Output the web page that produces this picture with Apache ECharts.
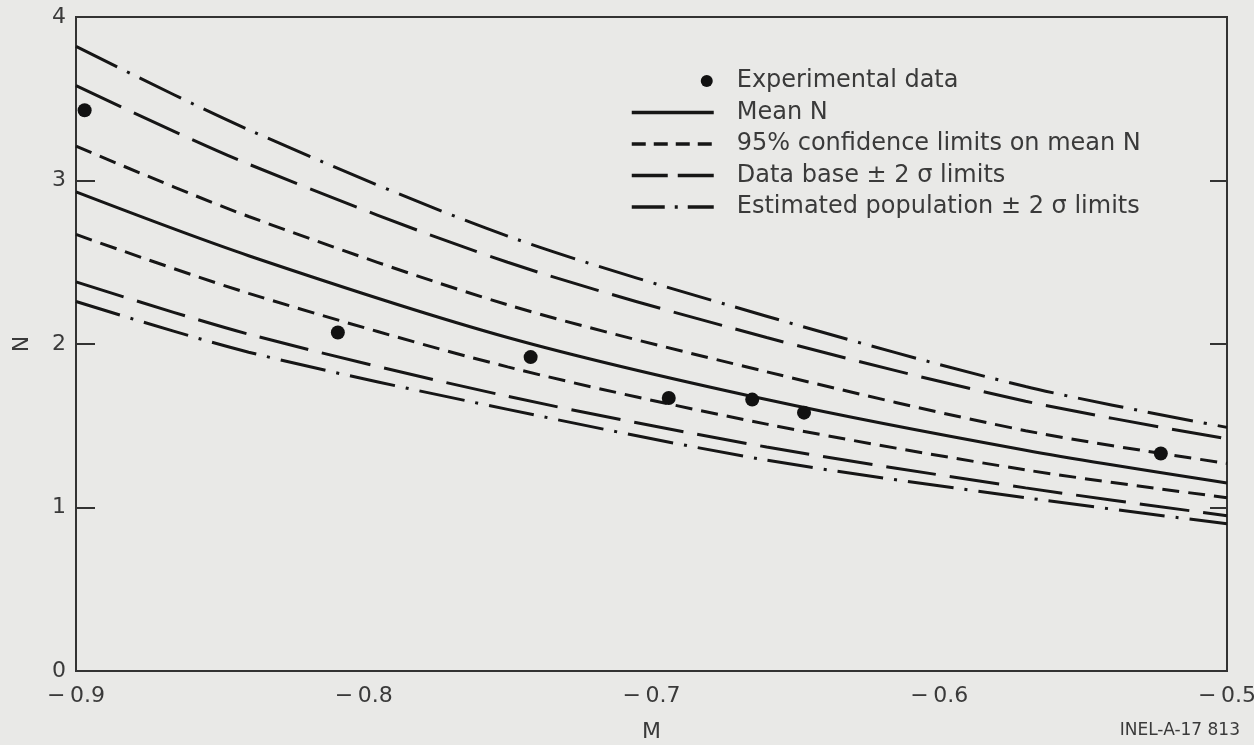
<!DOCTYPE html>
<html>
<head>
<meta charset="utf-8">
<script src="https://cdn.jsdelivr.net/npm/echarts@6/dist/echarts.min.js"></script>
<style>
html,body{margin:0;padding:0;background:#e9e9e7;}
#chart{width:1254px;height:745px;}
</style>
</head>
<body>
<div id="chart"></div>
<script>
// ---- data ----
var curveM = [-0.9, -0.84, -0.75, -0.66, -0.57, -0.5];
var meanN = [2.93, 2.54, 2.04, 1.66, 1.35, 1.15];
var confUpper = [3.21, 2.78, 2.24, 1.83, 1.47, 1.27];
var confLower = [2.67, 2.31, 1.86, 1.51, 1.23, 1.06];
var dbUpper = [3.58, 3.10, 2.50, 2.04, 1.65, 1.42];
var dbLower = [2.38, 2.06, 1.68, 1.37, 1.12, 0.95];
var popUpper = [3.82, 3.31, 2.66, 2.17, 1.74, 1.49];
var popLower = [2.26, 1.95, 1.60, 1.29, 1.06, 0.90];
var expM = [-0.897, -0.809, -0.742, -0.694, -0.665, -0.647, -0.523];
var expN = [3.43, 2.07, 1.92, 1.67, 1.66, 1.58, 1.33];
var legendNames = ['Experimental data', 'Mean N', '95% confidence limits on mean N',
  'Data base \u00b1 2 \u03c3 limits', 'Estimated population \u00b1 2 \u03c3 limits'];

function pairs(xs, ys) { return xs.map(function (x, i) { return [x, ys[i]]; }); }

var FONT = '"DejaVu Sans", "Liberation Sans", Arial, sans-serif';
var INK = '#161616';
var TXT = '#3a3a3a';
var DASH_CONF = [17, 9];
var DASH_DB = [50, 14];
var DASH_POP = [46, 11, 3, 11];

function lineSeries(name, ys, type) {
  return {
    type: 'line', name: name, data: pairs(curveM, ys), smooth: 0.3,
    symbol: 'none', clip: true,
    lineStyle: { color: INK, width: 3, type: type, cap: 'butt' },
    itemStyle: { color: INK }
  };
}

var hiddenSym = { opacity: 0 };
// dot placed at the right end of the legend sample box (82 x 14)
var DOT_ICON = 'path://M0,0M82,14M69,7a6,6 0 1,0 12,0a6,6 0 1,0 -12,0z';

var chart = echarts.init(document.getElementById('chart'), null, { renderer: 'canvas' });
chart.setOption({
  backgroundColor: '#e9e9e7',
  animation: false,
  textStyle: { fontFamily: FONT },
  grid: {
    left: 76, right: 27, top: 17, bottom: 74,
    outerBoundsMode: 'none', containLabel: false,
    show: true, borderColor: '#333', borderWidth: 2, backgroundColor: 'transparent'
  },
  legend: {
    orient: 'vertical', left: 625, top: 64,
    itemWidth: 82, itemHeight: 14, itemGap: 7.5,
    data: [
      { name: legendNames[0], icon: DOT_ICON },
      { name: legendNames[1], itemStyle: hiddenSym, lineStyle: { width: 3.5 } },
      { name: legendNames[2], itemStyle: hiddenSym, lineStyle: { width: 3.5, type: [14, 8] } },
      { name: legendNames[3], itemStyle: hiddenSym, lineStyle: { width: 3.5, type: [36, 10] } },
      { name: legendNames[4], itemStyle: hiddenSym, lineStyle: { width: 3.5, type: [33, 10, 3, 10] } }
    ],
    textStyle: { fontSize: 24, lineHeight: 24, color: TXT, fontFamily: FONT, padding: [0, 0, 0, 18] },
    inactiveColor: '#999'
  },
  xAxis: {
    type: 'value', min: -0.9, max: -0.5, interval: 0.1,
    name: 'M', nameLocation: 'middle', nameGap: 50,
    nameTextStyle: { fontSize: 22, color: TXT },
    axisLine: { show: true, lineStyle: { color: '#333', width: 2 } },
    axisTick: { show: false },
    splitLine: { show: false },
    axisLabel: {
      fontSize: 22, color: TXT, margin: 14,
      formatter: function (v) { var s = Math.abs(v).toFixed(1); return (v < 0 ? '\u2212\u2009' : '') + s; }
    }
  },
  yAxis: [{
    type: 'value', min: 0, max: 4, interval: 1, position: 'left',
    name: 'N', nameLocation: 'middle', nameGap: 43, nameRotate: 90,
    nameTextStyle: { fontSize: 22, color: TXT },
    axisLine: { show: true, lineStyle: { color: '#333', width: 2 } },
    axisTick: { show: true, inside: true, length: 19, lineStyle: { color: '#333', width: 2 } },
    splitLine: { show: false },
    axisLabel: { fontSize: 22, color: TXT, margin: 10 }
  }, {
    type: 'value', min: 0, max: 4, interval: 1, position: 'right',
    axisLine: { show: true, lineStyle: { color: '#333', width: 2 } },
    axisTick: { show: true, inside: true, length: 17, lineStyle: { color: '#333', width: 2 } },
    splitLine: { show: false },
    axisLabel: { show: false }
  }],
  series: [
    {
      type: 'scatter', name: legendNames[0], data: pairs(expM, expN),
      symbol: 'circle', symbolSize: 14, itemStyle: { color: '#111', opacity: 1 }, z: 5
    },
    lineSeries(legendNames[1], meanN, 'solid'),
    lineSeries(legendNames[2], confUpper, DASH_CONF),
    lineSeries(legendNames[2], confLower, DASH_CONF),
    lineSeries(legendNames[3], dbUpper, DASH_DB),
    lineSeries(legendNames[3], dbLower, DASH_DB),
    lineSeries(legendNames[4], popUpper, DASH_POP),
    lineSeries(legendNames[4], popLower, DASH_POP)
  ],
  graphic: [{
    type: 'text', right: 14, top: 722,
    style: { text: 'INEL-A-17 813', fontSize: 17, fill: TXT, fontFamily: FONT }
  }]
});
</script>
</body>
</html>
